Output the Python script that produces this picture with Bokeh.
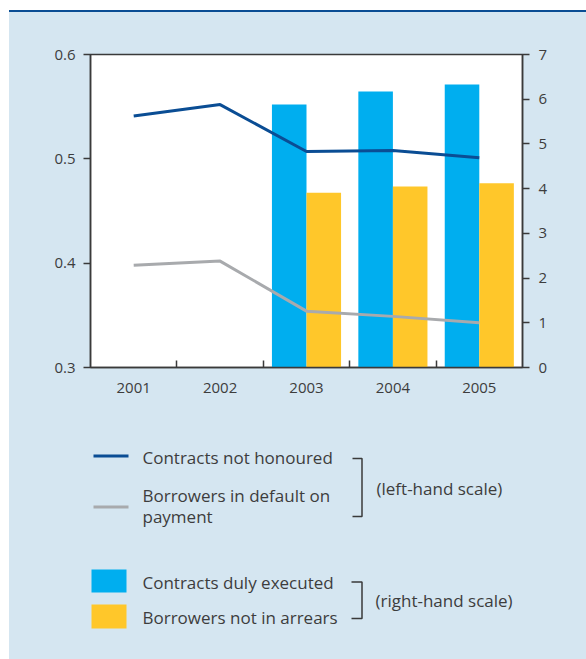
import numpy as np
from bokeh.plotting import figure
from bokeh.layouts import column
from bokeh.models import Range1d, LinearAxis, FixedTicker, PrintfTickFormatter, Div
from bokeh.core.properties import value
from bokeh.embed import file_html
from bokeh.resources import INLINE

# ---- data ----
years = ["2001", "2002", "2003", "2004", "2005"]
contracts_not_honoured = [0.541, 0.552, 0.507, 0.508, 0.501]
borrowers_in_default = [0.398, 0.402, 0.354, 0.349, 0.343]
bar_years = ["2003", "2004", "2005"]
contracts_duly_executed = [5.88, 6.17, 6.33]
borrowers_not_in_arrears = [3.91, 4.05, 4.12]
left_ticks = [0.3, 0.4, 0.5, 0.6]
right_ticks = [0, 1, 2, 3, 4, 5, 6, 7]

# ---- styles ----
PANEL = "#d5e6f1"
DARKBLUE = "#0a4d94"
GREY = "#a8aaad"
CYAN = "#00aeef"
YELLOW = "#ffc72a"
AXIS = "#3a3a3a"
TEXT = "#3d3d3d"
FONT = "Open Sans"

xpos = np.arange(len(years)) + 0.5
bar_x = np.array([years.index(y) for y in bar_years]) + 0.5

# top rule
rule = Div(width=577, height=2, margin=(10, 0, 0, 9), text="",
           styles={"background-color": DARKBLUE})

p = figure(width=577, height=408, x_range=Range1d(0, len(years)), y_range=Range1d(0.3, 0.6),
           x_axis_type=None, y_axis_type=None,
           output_backend="svg", toolbar_location=None,
           min_border_left=81, min_border_right=64, min_border_top=42, min_border_bottom=53,
           background_fill_color="white", border_fill_color=PANEL,
           outline_line_color=AXIS, outline_line_width=1.5, margin=(0, 0, 0, 9),
           styles={"background-color": PANEL})
p.extra_y_ranges = {"right": Range1d(0, 7)}

p.vbar(x=bar_x - 0.2, width=0.4, top=contracts_duly_executed, bottom=0,
       y_range_name="right", fill_color=CYAN, line_color=None)
p.vbar(x=bar_x + 0.2, width=0.4, top=borrowers_not_in_arrears, bottom=0,
       y_range_name="right", fill_color=YELLOW, line_color=None)

p.line(xpos, borrowers_in_default, line_color=GREY, line_width=3)
p.line(xpos, contracts_not_honoured, line_color=DARKBLUE, line_width=3)

def style_axis(ax):
    ax.axis_line_color = AXIS
    ax.axis_line_width = 1.5
    ax.major_tick_line_color = AXIS
    ax.major_tick_line_width = 1.5
    ax.minor_tick_line_color = AXIS
    ax.minor_tick_line_width = 1.5
    ax.major_label_text_font = FONT
    ax.major_label_text_font_size = "15px"
    ax.major_label_text_color = TEXT

xaxis = LinearAxis(ticker=FixedTicker(ticks=list(xpos), minor_ticks=[1, 2, 3, 4]),
                   major_label_overrides={float(x): y for x, y in zip(xpos, years)},
                   major_tick_in=0, major_tick_out=0, minor_tick_in=7, minor_tick_out=0,
                   major_label_standoff=15)
style_axis(xaxis)
p.add_layout(xaxis, "below")

yaxis = LinearAxis(ticker=FixedTicker(ticks=left_ticks), formatter=PrintfTickFormatter(format="%.1f"),
                   major_tick_in=0, major_tick_out=7, minor_tick_in=0, minor_tick_out=0,
                   major_label_standoff=8)
style_axis(yaxis)
p.add_layout(yaxis, "left")

raxis = LinearAxis(y_range_name="right", ticker=FixedTicker(ticks=right_ticks),
                   major_tick_in=0, major_tick_out=7, minor_tick_in=0, minor_tick_out=0,
                   major_label_standoff=9)
style_axis(raxis)
p.add_layout(raxis, "right")

# ---- legend panel: frame spans page x 90..522 (aligned with chart frame), y 420..659 ----
lg = figure(width=577, height=239, x_range=Range1d(90, 522), y_range=Range1d(659, 420),
            x_axis_type=None, y_axis_type=None, output_backend="svg", toolbar_location=None,
            min_border_left=81, min_border_right=64, min_border_top=0, min_border_bottom=0,
            background_fill_color=None, border_fill_color=PANEL, outline_line_color=None,
            margin=(0, 0, 0, 9), styles={"background-color": PANEL})

# line swatches
lg.line([93, 128], [455.5, 455.5], line_color=DARKBLUE, line_width=3)
lg.line([93, 128], [506.5, 506.5], line_color=GREY, line_width=3)
# box swatches
lg.quad(left=[91, 91], right=[126, 126], top=[569, 604], bottom=[592, 628],
        fill_color=[CYAN, YELLOW], line_color=None)

labels_x = [142, 142, 142, 376, 142, 142, 375]
labels_y = [457, 495, 516, 488, 582, 617, 600]
labels_t = ["Contracts not honoured", "Borrowers in default on", "payment", "(left-hand scale)",
            "Contracts duly executed", "Borrowers not in arrears", "(right-hand scale)"]
lg.text(x=labels_x, y=labels_y, text=labels_t, text_font=value(FONT), text_font_size="17px",
        text_color=TEXT, text_align="left", text_baseline="middle")

# brackets
lg.line([352, 361.5, 361.5, 352], [458, 458, 516, 516], line_color=AXIS, line_width=1.5)
lg.line([351, 361.5, 361.5, 351], [581.5, 581.5, 618, 618], line_color=AXIS, line_width=1.5)

layout = column(rule, p, lg, spacing=0)
open("out.html", "w").write(file_html(layout, INLINE))
